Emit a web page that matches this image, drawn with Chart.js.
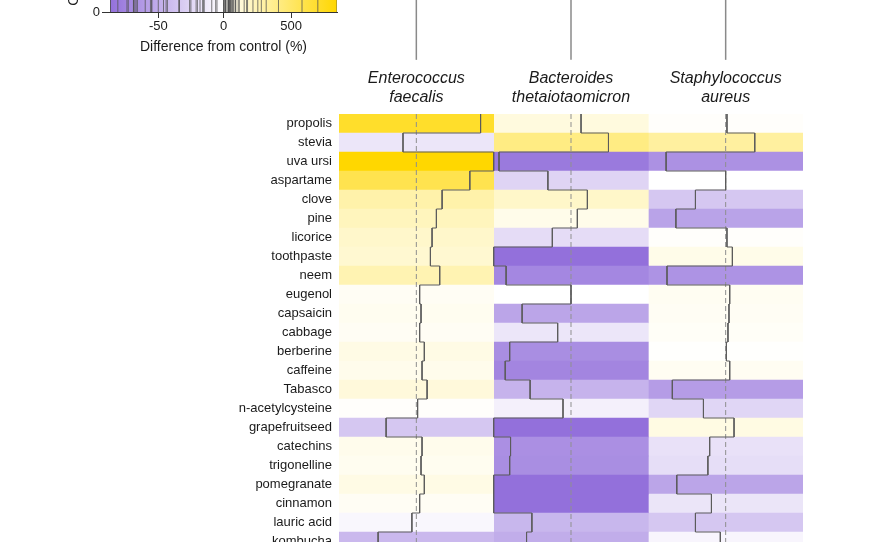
<!DOCTYPE html>
<html>
<head>
<meta charset="utf-8">
<script src="https://cdn.jsdelivr.net/npm/chart.js@4.4.1/dist/chart.umd.min.js"></script>
<style>
  html, body { margin: 0; padding: 0; background: #fff; overflow: hidden; }
  #wrap { position: relative; width: 880px; height: 542px; overflow: hidden; }
  #main { position: absolute; left: 0; top: 0; }
  #key { position: absolute; left: 0; top: -88px; }
</style>
</head>
<body>
<div id="wrap">
  <canvas id="main" width="880" height="552"></canvas>
  <canvas id="key" width="360" height="144"></canvas>
</div>
<script>
// rows top to bottom (the figure is cut off below kombucha)
const rows = ['propolis', 'stevia', 'uva ursi', 'aspartame', 'clove', 'pine', 'licorice',
  'toothpaste', 'neem', 'eugenol', 'capsaicin', 'cabbage', 'berberine', 'caffeine', 'Tabasco',
  'n-acetylcysteine', 'grapefruitseed', 'catechins', 'trigonelline', 'pomegranate', 'cinnamon',
  'lauric acid', 'kombucha'];

const species = [['Enterococcus', 'faecalis'], ['Bacteroides', 'thetaiotaomicron'], ['Staphylococcus', 'aureus']];

// difference from control (%)
const eFaecalis = [698, -15, 840, 581, 280, 218, 171, 153, 254, 36, 51, 36, 87, 62, 117, 14, -34, 62, 51, 87, 36, -5, -43];
const bTheta = [109, 407, -81, -26, 178, 69, -21, -87, -73, 0, -55, -15, -69, -74, -46, -9, -87, -68, -69, -87, -87, -44, -50];
const sAureus = [14, 316, -67, 0, -34, -56, 14, 73, -66, 44, 36, 25, 8, 44, -60, -25, 91, -18, -20, -55, -16, -34, -6];

const keyMin = -87;
const keyMax = 840;
const keyTicks = [-50, 0, 500];

const purple = [147, 112, 219];
const gold = [255, 215, 0];
const FONT = "'Liberation Sans', Arial, sans-serif";

// piecewise scale: keyMin..0 -> -1..0, 0..keyMax -> 0..1
function toT(v) {
  return v < 0 ? -v / keyMin : v / keyMax;
}
function colorFor(v) {
  const t = toT(v);
  const end = t < 0 ? purple : gold;
  const a = Math.abs(t);
  const c = end.map(e => Math.round(255 + (e - 255) * a));
  return `rgb(${c[0]},${c[1]},${c[2]})`;
}

// drop the edge padding chart.js reserves for end labels
function noPad(s) {
  s.paddingTop = 0; s.paddingBottom = 0; s.paddingLeft = 0; s.paddingRight = 0;
}

const columns = [eFaecalis, bTheta, sAureus];

// heatmap cells
const cellSets = columns.map((vals, c) => ({
  type: 'bar',
  data: vals.map((v, i) => ({ y: i + 0.5, x: [c, c + 1] })),
  backgroundColor: vals.map(colorFor),
  borderWidth: 0,
  grouped: false,
  barPercentage: 1,
  categoryPercentage: 1,
  order: 10
}));

// step traces
const traceSets = columns.map((vals, c) => {
  const pts = [];
  vals.forEach((v, i) => {
    const x = c + 0.5 + 0.5 * toT(v);
    pts.push({ x: x, y: i }, { x: x, y: i + 1 });
  });
  return {
    type: 'line', data: pts, borderColor: '#5c5c5c', borderWidth: 1,
    pointRadius: 0, fill: false, tension: 0, order: 1
  };
});

// dashed zero lines
const zeroSets = columns.map((vals, c) => ({
  type: 'line',
  data: [{ x: c + 0.5, y: 0 }, { x: c + 0.5, y: rows.length }],
  borderColor: '#8f8f8f', borderWidth: 1, borderDash: [5, 3],
  pointRadius: 0, fill: false, order: 2
}));

// legs of the column dendrogram (top of the figure is cut off)
const dendroSets = columns.map((vals, c) => ({
  type: 'line',
  data: [{ x: c + 0.5, y: -2.85 }, { x: c + 0.5, y: -9 }],
  borderColor: '#8a8a8a', borderWidth: 1.5,
  pointRadius: 0, fill: false, clip: false, order: 3
}));

new Chart(document.getElementById('main'), {
  type: 'bar',
  data: { datasets: [...traceSets, ...zeroSets, ...dendroSets, ...cellSets] },
  options: {
    indexAxis: 'y',
    responsive: false,
    animation: false,
    layout: { padding: { left: 0, right: 77, top: 0, bottom: 1 } },
    plugins: { legend: { display: false }, tooltip: { enabled: false } },
    scales: {
      x: {
        type: 'linear', position: 'top', min: 0, max: 3, offset: false,
        grid: { display: false }, border: { display: false },
        afterBuildTicks: s => { s.ticks = species.map((n, i) => ({ value: i + 0.5 })); },
        afterFit: s => { s.height = 114; noPad(s); },
        ticks: {
          padding: -1, color: '#1a1a1a',
          font: { family: FONT, size: 16, style: 'italic', lineHeight: 1.2 },
          callback: (v, i) => species[i]
        }
      },
      y: {
        type: 'linear', reverse: true, min: 0, max: rows.length, offset: false,
        grid: { display: false, drawTicks: false, offset: false }, border: { display: false },
        afterBuildTicks: s => { s.ticks = rows.map((r, i) => ({ value: i + 0.5 })); },
        afterFit: s => { s.width = 339; noPad(s); },
        ticks: {
          autoSkip: false, padding: 7, color: '#1a1a1a',
          font: { family: FONT, size: 13 },
          callback: (v, i) => rows[i]
        }
      }
    }
  }
});

// colour key with value lines
const allValues = [...eFaecalis, ...bTheta, ...sAureus];
const keyTop = 20;
const histPts = [];
allValues.forEach(v => {
  const t = toT(v);
  histPts.push({ x: t, y: 0 }, { x: t, y: keyTop }, { x: t, y: null });
});

new Chart(document.getElementById('key'), {
  type: 'line',
  data: {
    datasets: [
      {
        data: histPts, borderColor: 'rgba(80,80,80,0.75)', borderWidth: 1,
        pointRadius: 0, fill: false, spanGaps: false, order: 1
      },
      {
        data: [{ x: 0, y: 0 }, { x: 0, y: keyTop }], borderColor: '#c8c8c8', borderWidth: 1,
        borderDash: [3, 3], pointRadius: 0, fill: false, order: 2
      },
      {
        data: [{ x: -1, y: keyTop }, { x: 1, y: keyTop }],
        borderWidth: 0, pointRadius: 0, fill: 'origin', order: 5,
        backgroundColor: ctx => {
          const ch = ctx.chart;
          if (!ch.chartArea) return 'rgba(0,0,0,0)';
          const x0 = ch.scales.x.getPixelForValue(-1);
          const x1 = ch.scales.x.getPixelForValue(1);
          const g = ch.ctx.createLinearGradient(x0, 0, x1, 0);
          g.addColorStop(0, `rgb(${purple.join(',')})`);
          g.addColorStop(0.5, '#ffffff');
          g.addColorStop(1, `rgb(${gold.join(',')})`);
          return g;
        }
      }
    ]
  },
  options: {
    responsive: false,
    animation: false,
    layout: { padding: { left: 0, right: 23, top: 50, bottom: 0 } },
    plugins: { legend: { display: false }, tooltip: { enabled: false } },
    scales: {
      x: {
        type: 'linear', min: -1, max: 1,
        grid: { drawOnChartArea: false, tickLength: 6, color: '#333' },
        border: { display: true, color: '#333' },
        afterBuildTicks: s => { s.ticks = keyTicks.map(v => ({ value: toT(v) })); },
        afterFit: s => { s.height = 44; noPad(s); },
        ticks: {
          padding: 1, color: '#1a1a1a', font: { family: FONT, size: 13 },
          callback: (v, i) => String(keyTicks[i])
        },
        title: {
          display: true, text: 'Difference from control (%)', color: '#1a1a1a',
          font: { family: FONT, size: 14 }, padding: { top: 0, bottom: 0 }
        }
      },
      y: {
        type: 'linear', min: 0, max: keyTop,
        grid: { drawOnChartArea: false, tickLength: 8, color: '#333' },
        border: { display: true, color: '#333' },
        afterFit: s => { s.width = 110; noPad(s); },
        ticks: { stepSize: 10, padding: 2, color: '#1a1a1a', font: { family: FONT, size: 13 } },
        title: {
          display: true, text: 'Count', color: '#1a1a1a',
          font: { family: FONT, size: 14 }, padding: { top: 66, bottom: 0 }
        }
      }
    }
  }
});
</script>
</body>
</html>
